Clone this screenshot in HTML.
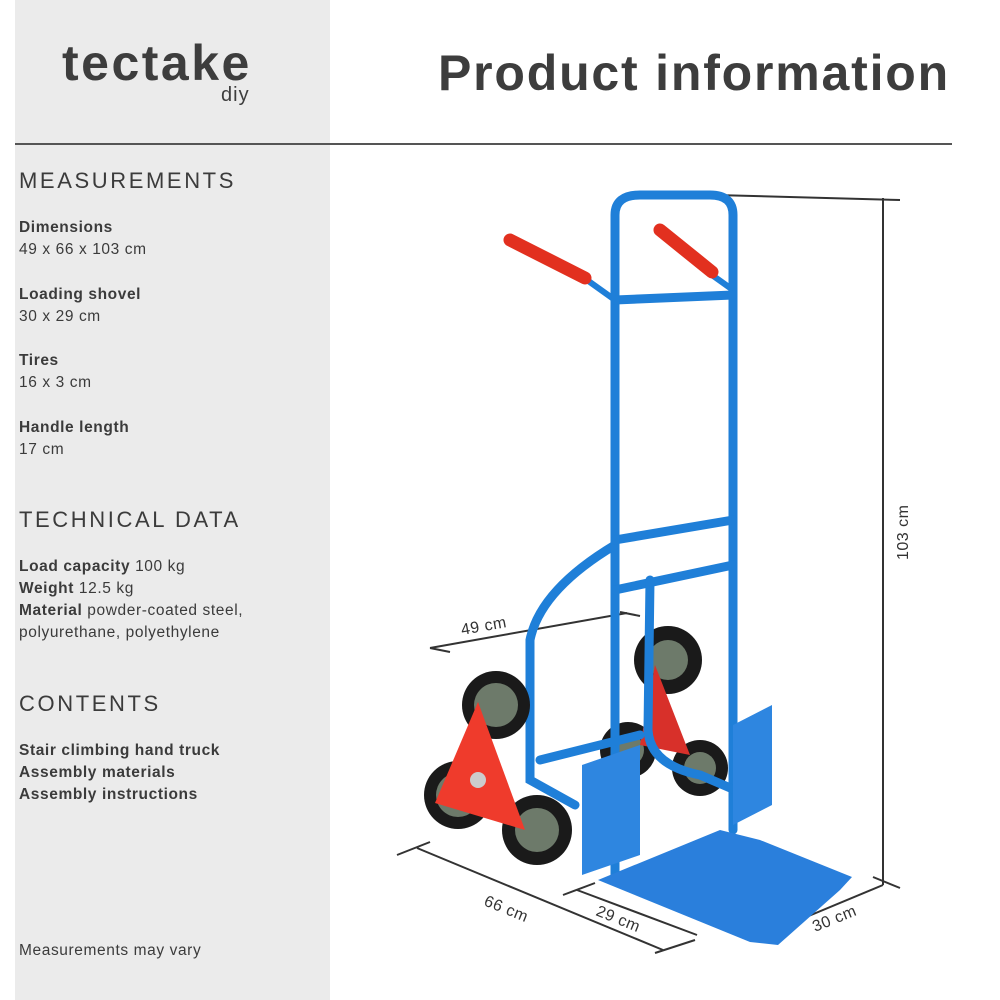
<!DOCTYPE html>
<html><head><meta charset="utf-8"><style>
body{margin:0;width:1000px;height:1000px;background:#fff;position:relative;overflow:hidden;font-family:"Liberation Sans",sans-serif;color:#3b3b3b}
#side{position:absolute;left:15px;top:0;width:315px;height:1000px;background:#ebebeb}
.a{position:absolute;left:19px;font-size:15.5px;line-height:22px;color:#3b3b3b;letter-spacing:0.6px}
.h{position:absolute;left:19px;font-size:22px;letter-spacing:2.6px;color:#3b3b3b}
b{font-weight:bold}
</style></head><body>
<div id="side"></div>
<div style="position:absolute;left:62px;top:34px;font-size:50px;font-weight:bold;color:#3d3d3d;letter-spacing:2.5px">tectake</div>
<div style="position:absolute;left:221px;top:84px;font-size:20px;color:#3d3d3d;letter-spacing:1px">diy</div>
<div style="position:absolute;left:438px;top:44px;font-size:50px;font-weight:bold;color:#3d3d3d;letter-spacing:1.8px">Product information</div>
<div style="position:absolute;left:15px;top:143px;width:937px;height:2px;background:#555"></div>
<div class="h" style="top:168px">MEASUREMENTS</div>
<div class="a" style="top:217px"><b>Dimensions</b><br>49 x 66 x 103 cm</div>
<div class="a" style="top:284px"><b>Loading shovel</b><br>30 x 29 cm</div>
<div class="a" style="top:350px"><b>Tires</b><br>16 x 3 cm</div>
<div class="a" style="top:417px"><b>Handle length</b><br>17 cm</div>
<div class="h" style="top:507px">TECHNICAL DATA</div>
<div class="a" style="top:556px"><b>Load capacity</b> 100 kg<br><b>Weight</b> 12.5 kg<br><b>Material</b> powder-coated steel,<br>polyurethane, polyethylene</div>
<div class="h" style="top:691px">CONTENTS</div>
<div class="a" style="top:740px"><b>Stair climbing hand truck<br>Assembly materials<br>Assembly instructions</b></div>
<div class="a" style="top:940px">Measurements may vary</div>
<svg width="1000" height="1000" style="position:absolute;left:0;top:0">
<g stroke="#333" stroke-width="2" fill="none">
<line x1="715" y1="195" x2="900" y2="200"/><line x1="883" y1="198" x2="883" y2="885"/>
<line x1="430" y1="648" x2="627" y2="613"/><line x1="430" y1="648" x2="450" y2="652"/><line x1="620" y1="612" x2="640" y2="616"/>
<line x1="417" y1="848" x2="663" y2="950"/><line x1="397" y1="855" x2="430" y2="842"/><line x1="655" y1="953" x2="695" y2="940"/>
<line x1="577" y1="890" x2="697" y2="935"/><line x1="563" y1="895" x2="595" y2="883"/>
<line x1="763" y1="935" x2="883" y2="885"/><line x1="727" y1="928" x2="777" y2="940"/><line x1="873" y1="877" x2="900" y2="888"/>
</g>
<g font-family="Liberation Sans" font-size="16" fill="#333" letter-spacing="0.5">
<text x="462" y="635" transform="rotate(-10 462 635)">49 cm</text>
<text x="483" y="905" transform="rotate(22 483 905)">66 cm</text>
<text x="595" y="915" transform="rotate(22 595 915)">29 cm</text>
<text x="815" y="932" transform="rotate(-22 815 932)">30 cm</text>
<text x="908" y="560" transform="rotate(-90 908 560)">103 cm</text>
</g>
<g fill="#1a1a1a"><circle cx="668" cy="660" r="34"/><circle cx="700" cy="768" r="28"/><circle cx="628" cy="750" r="28"/></g>
<g fill="#6d7a6a"><circle cx="668" cy="660" r="20"/><circle cx="700" cy="768" r="16"/><circle cx="628" cy="750" r="16"/></g>
<polygon points="655,665 690,755 640,745" fill="#d8302a"/>
<g stroke="#1f7fd8" stroke-width="9" fill="none" stroke-linecap="round">
<path d="M615,880 L615,215 Q615,195 640,195 L710,195 Q733,195 733,215 L733,830"/>
<line x1="615" y1="300" x2="733" y2="295"/>
<path d="M615,545 Q540,590 530,640 L530,780 L575,805"/>
<line x1="615" y1="590" x2="733" y2="565"/>
<path d="M650,580 L648,730 Q650,765 700,775 L735,790"/>
<line x1="540" y1="760" x2="640" y2="735"/>
<line x1="615" y1="540" x2="733" y2="520"/>
</g>
<g stroke="#1f7fd8" stroke-width="6" fill="none"><line x1="580" y1="275" x2="615" y2="300"/><line x1="705" y1="270" x2="733" y2="290"/></g>
<g stroke="#e2301f" stroke-width="13" stroke-linecap="round"><line x1="510" y1="240" x2="585" y2="278"/><line x1="660" y1="230" x2="712" y2="272"/></g>
<polygon points="582,765 640,745 640,855 582,875" fill="#2e86e0"/>
<polygon points="733,725 772,705 772,805 733,825" fill="#2e86e0"/>
<polygon points="598,880 720,830 760,840 852,877 840,890 778,945 750,942" fill="#2a7fdc"/>
<g fill="#1a1a1a"><circle cx="496" cy="705" r="34"/><circle cx="458" cy="795" r="34"/><circle cx="537" cy="830" r="35"/></g>
<g fill="#6d7a6a"><circle cx="496" cy="705" r="22"/><circle cx="458" cy="795" r="22"/><circle cx="537" cy="830" r="22"/></g>
<polygon points="478,702 525,830 435,803" fill="#ef3b2c"/>
<circle cx="478" cy="780" r="8" fill="#ccc"/>
</svg>
</body></html>
